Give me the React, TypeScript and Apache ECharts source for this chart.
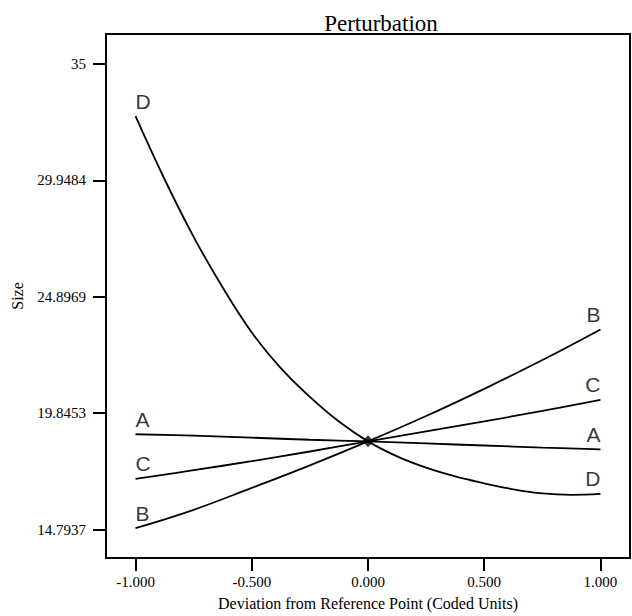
import React, { useEffect, useRef } from "react";
import * as echarts from "echarts";

// Coded-unit positions and response values (Size)
const xStd = [-1, -0.75, -0.5, -0.25, 0, 0.25, 0.5, 0.75, 1];
const seriesA = [18.93, 18.87, 18.78, 18.69, 18.62, 18.53, 18.44, 18.35, 18.27];
const seriesB = [14.85, 15.65, 16.6, 17.58, 18.62, 19.72, 20.9, 22.15, 23.48];
const seriesC = [16.99, 17.37, 17.76, 18.18, 18.62, 19.05, 19.49, 19.94, 20.42];
const xD = [-1, -0.875, -0.75, -0.625, -0.5, -0.375, -0.25, -0.125, 0, 0.125, 0.25, 0.375, 0.5, 0.625, 0.75, 0.875, 1];
const seriesD = [32.74, 30.0, 27.5, 25.3, 23.35, 21.8, 20.55, 19.48, 18.62, 17.97, 17.48, 17.1, 16.8, 16.54, 16.36, 16.3, 16.34];
const refPoint = [0, 18.62];

const factorNames = ["A", "B", "C", "D"];

const xTicks = [-1, -0.5, 0, 0.5, 1];
const yTickValues = [14.7937, 19.8453, 24.8969, 29.9484, 35];
const yTickLabels = ["14.7937", "19.8453", "24.8969", "29.9484", "35"];

const titleText = "Perturbation";
const xName = "Deviation from Reference Point (Coded Units)";
const yName = "Size";

const serif = "'Liberation Serif', 'Times New Roman', serif";
const sans = "'Liberation Sans', Arial, sans-serif";

const curves: [string, number[], number[]][] = [
  [factorNames[0], xStd, seriesA],
  [factorNames[1], xStd, seriesB],
  [factorNames[2], xStd, seriesC],
  [factorNames[3], xD, seriesD],
];

function lineSeries(name: string, xs: number[], ys: number[]) {
  return {
    type: "line",
    name,
    data: xs.map((x, i) => [x, ys[i]]),
    smooth: 0.4,
    showSymbol: false,
    symbol: "none",
    lineStyle: { color: "#000", width: 1.8 },
    emphasis: { disabled: true },
    z: 2,
  };
}

function labelSeries() {
  const data: any[] = [];
  curves.forEach(([name, xs, ys]) => {
    const n = xs.length;
    data.push({ name, value: [xs[0], ys[0]], label: { align: "left" } });
    data.push({ name, value: [xs[n - 1], ys[n - 1]], label: { align: "right" } });
  });
  return {
    type: "scatter",
    data,
    symbol: "circle",
    symbolSize: 1,
    itemStyle: { color: "rgba(0,0,0,0)" },
    label: {
      show: true,
      position: "top",
      distance: 4,
      formatter: (p: any) => p.name,
      color: "#000",
      fontFamily: sans,
      fontSize: 21,
    },
    labelLayout: { hideOverlap: false },
    emphasis: { disabled: true },
    silent: true,
    z: 3,
  };
}

export default function App() {
  const ref = useRef<HTMLDivElement>(null);
  useEffect(() => {
    if (!ref.current) return;
    const chart = echarts.init(ref.current, null, { renderer: "svg" });
    chart.setOption({
      animation: false,
      backgroundColor: "#fff",
      title: {
        text: titleText,
        left: 376,
        textAlign: "center",
        top: 7,
        textStyle: { fontFamily: serif, fontSize: 23, fontWeight: "normal", color: "#000" },
      },
      grid: {
        left: 106,
        right: 2,
        top: 34,
        bottom: 54,
        show: true,
        borderColor: "#000",
        borderWidth: 2,
        backgroundColor: "transparent",
      },
      xAxis: {
        type: "value",
        min: -1.127,
        max: 1.127,
        name: xName,
        nameLocation: "middle",
        nameGap: 37,
        nameTextStyle: { fontFamily: serif, fontSize: 16, color: "#000" },
        axisLine: { show: true, onZero: false, lineStyle: { color: "#000", width: 2 } },
        axisTick: { show: true, length: 13, customValues: xTicks, lineStyle: { color: "#000", width: 2 } },
        axisLabel: {
          customValues: xTicks,
          formatter: (v: number) => v.toFixed(3),
          fontFamily: serif,
          fontSize: 15,
          color: "#000",
          margin: 16,
        },
        splitLine: { show: false },
      },
      yAxis: {
        type: "value",
        min: 13.557,
        max: 36.305,
        name: yName,
        nameLocation: "middle",
        nameGap: 81,
        nameTextStyle: { fontFamily: serif, fontSize: 16, color: "#000" },
        axisLine: { show: true, onZero: false, lineStyle: { color: "#000", width: 2 } },
        axisTick: { show: true, length: 13, customValues: yTickValues, lineStyle: { color: "#000", width: 2 } },
        axisLabel: {
          customValues: yTickValues,
          formatter: (v: number) => {
            let best = 0;
            for (let i = 0; i < yTickValues.length; i++) {
              if (Math.abs(yTickValues[i] - v) < Math.abs(yTickValues[best] - v)) best = i;
            }
            return yTickLabels[best];
          },
          fontFamily: serif,
          fontSize: 15,
          color: "#000",
          margin: 20,
        },
        splitLine: { show: false },
      },
      series: [
        ...curves.map(([name, xs, ys]) => lineSeries(name, xs, ys)),
        labelSeries(),
        {
          type: "scatter",
          data: [refPoint],
          symbol: "diamond",
          symbolSize: [11, 12],
          itemStyle: { color: "#000" },
          emphasis: { disabled: true },
          z: 5,
        },
      ],
    });
    return () => chart.dispose();
  }, []);
  return (
    <div
      ref={ref}
      style={{ position: "fixed", left: 0, top: 0, width: 632, height: 616, background: "#fff" }}
    />
  );
}
